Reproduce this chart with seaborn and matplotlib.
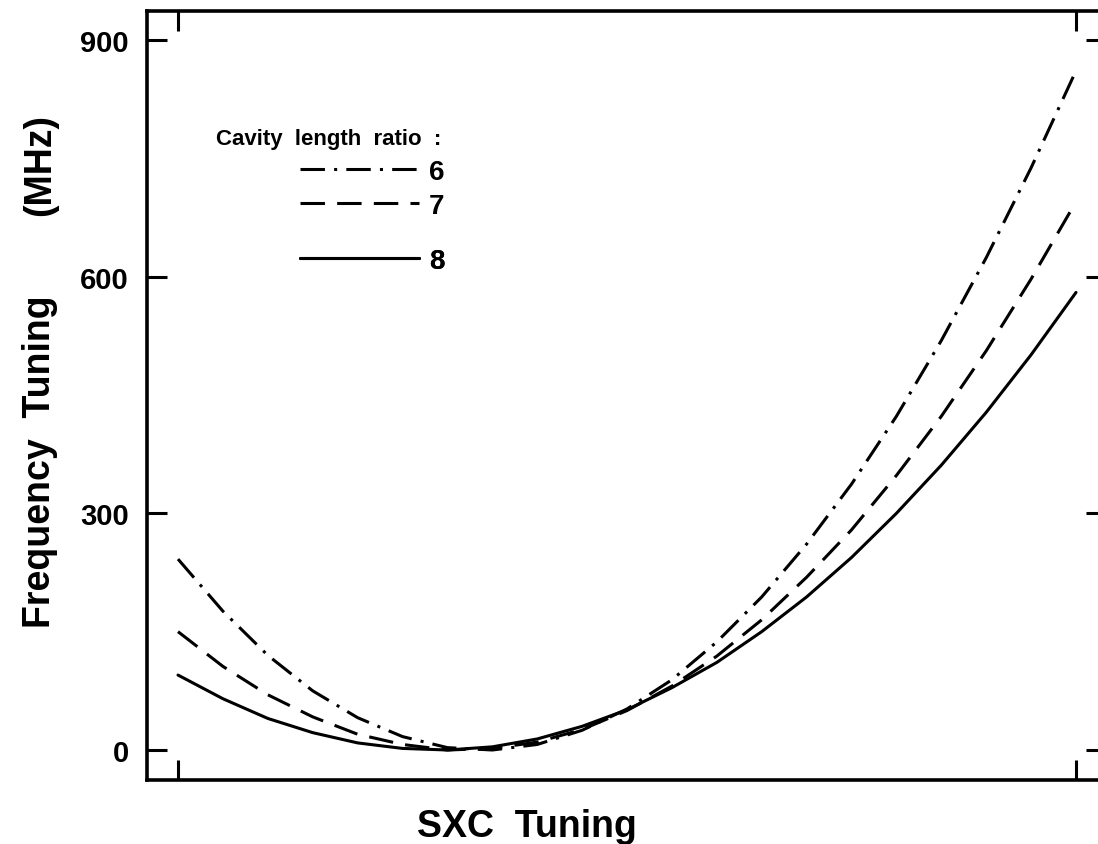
import matplotlib
matplotlib.use("Agg")
import matplotlib.pyplot as plt
import seaborn as sns
import pandas as pd
from matplotlib.lines import Line2D

# ---- data ----
sxc = [0.00, 0.05, 0.10, 0.15, 0.20, 0.25, 0.30, 0.35, 0.40, 0.45, 0.50,
       0.55, 0.60, 0.65, 0.70, 0.75, 0.80, 0.85, 0.90, 0.95, 1.00]
ratio6 = [242, 176, 120, 75, 41, 17, 3, 0, 7, 25, 52,
          89, 137, 194, 261, 337, 423, 519, 624, 738, 861]
ratio7 = [150, 106, 70, 42, 20, 7, 0, 2, 10, 26, 50,
          81, 119, 165, 219, 279, 348, 423, 506, 597, 695]
ratio8 = [95, 65, 40, 22, 9, 2, 0, 4, 14, 30, 51,
          79, 111, 150, 194, 244, 300, 361, 428, 501, 580]
ratio_labels = ["6", "7", "8"]
yticks = [0, 300, 600, 900]
xticks = [0.0, 1.0]

rows = []
for lab, vals in zip(ratio_labels, [ratio6, ratio7, ratio8]):
    for x, v in zip(sxc, vals):
        rows.append({"SXC": x, "Freq": v, "ratio": lab})
df = pd.DataFrame(rows)

sns.set_style("white")
plt.rcParams["font.family"] = ["Liberation Sans", "DejaVu Sans"]
plt.rcParams["font.weight"] = "bold"
for k in ["text.color", "axes.labelcolor", "xtick.color", "ytick.color",
          "axes.edgecolor"]:
    plt.rcParams[k] = "black"

W, H = 1098, 845
fig = plt.figure(figsize=(W / 100, H / 100), dpi=100)
ax = fig.add_axes([147 / W, 1 - 781 / H, (1106 - 147) / W, (781 - 12) / H])

dash_map = {"6": (8, 3, 1, 3), "7": (8, 4), "8": ""}
lw = 2.2
sns.lineplot(data=df, x="SXC", y="Freq", style="ratio", dashes=dash_map,
             color="black", linewidth=lw, legend=False, ax=ax,
             estimator=None, sort=False)

ax.set_xlim(-31 / 898, 1 + 30 / 898)
ax.set_ylim(-30 / 0.7889, 900 + 29 / 0.7889)
ax.set_xticks(xticks)
ax.set_xticklabels([])
ax.set_yticks(yticks)
ax.set_yticklabels([str(t) for t in yticks], fontsize=21, fontweight="bold")
ax.set_xlabel("")
ax.set_ylabel("")
for s in ax.spines.values():
    s.set_visible(True)
    s.set_linewidth(2.6)
    s.set_color("black")
ax.tick_params(axis="both", which="both", direction="in", length=14.4,
               width=2.2, color="black", top=True, right=True,
               bottom=True, left=True, labelright=False, labeltop=False)
ax.tick_params(axis="y", pad=13)

# legend: one entry per row so rows can sit where the reference has them
row_y = [173, 207, 262]
for k, yy in zip(ratio_labels, row_y):
    if dash_map[k]:
        h = Line2D([], [], color="black", linewidth=lw, dashes=dash_map[k])
    else:
        h = Line2D([], [], color="black", linewidth=lw)
    lg = ax.legend([h], [k], loc="center left",
                   bbox_to_anchor=(300 / W, 1 - yy / H),
                   bbox_transform=fig.transFigure, frameon=False,
                   borderpad=0, borderaxespad=0, handlelength=4.3,
                   handletextpad=0.35,
                   prop={"size": 20, "weight": "bold"})
    ax.add_artist(lg)
fig.text(216 / W, 1 - 140 / H, "Cavity  length  ratio  :", fontsize=16,
         fontweight="bold", ha="left", va="center")

# axis titles
fig.text(40 / W, 1 - 462 / H, "Frequency  Tuning", rotation=90, fontsize=27,
         fontweight="bold", ha="center", va="center")
fig.text(40 / W, 1 - 165 / H, "(MHz)", rotation=90, fontsize=27,
         fontweight="bold", ha="center", va="center")
fig.text(527 / W, 1 - 837 / H, "SXC  Tuning", fontsize=27,
         fontweight="bold", ha="center", va="baseline")

fig.savefig("out.png", dpi=100)
